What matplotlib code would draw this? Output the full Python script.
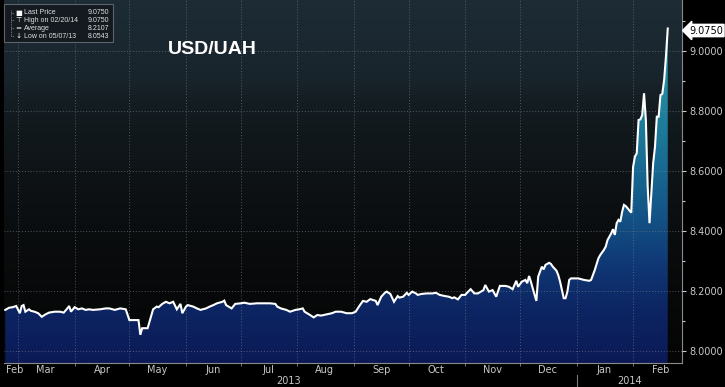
import numpy as np
import matplotlib
matplotlib.use("Agg")
import matplotlib.pyplot as plt
import matplotlib.dates as mdates
import matplotlib.transforms as mtransforms
from matplotlib.colors import LinearSegmentedColormap
from matplotlib.lines import Line2D
from matplotlib.patches import Rectangle

# ---------------- data ----------------
dates = [
    "2013-02-22", "2013-02-24", "2013-02-26", "2013-02-28", "2013-03-02", "2013-03-03",
    "2013-03-04", "2013-03-05", "2013-03-07", "2013-03-08", "2013-03-10", "2013-03-12",
    "2013-03-14", "2013-03-16", "2013-03-18", "2013-03-21", "2013-03-24", "2013-03-26",
    "2013-03-28", "2013-03-29", "2013-03-30", "2013-04-01", "2013-04-03", "2013-04-05",
    "2013-04-07", "2013-04-09", "2013-04-11", "2013-04-15", "2013-04-18", "2013-04-20",
    "2013-04-23", "2013-04-26", "2013-04-29", "2013-05-01", "2013-05-03", "2013-05-06",
    "2013-05-07", "2013-05-08", "2013-05-11", "2013-05-14", "2013-05-16", "2013-05-17",
    "2013-05-19", "2013-05-21", "2013-05-23", "2013-05-25", "2013-05-27", "2013-05-29",
    "2013-05-30", "2013-06-01", "2013-06-02", "2013-06-05", "2013-06-07", "2013-06-09",
    "2013-06-12", "2013-06-14", "2013-06-16", "2013-06-18", "2013-06-21", "2013-06-22",
    "2013-06-23", "2013-06-26", "2013-06-28", "2013-07-01", "2013-07-03", "2013-07-06",
    "2013-07-10", "2013-07-13", "2013-07-17", "2013-07-20", "2013-07-21", "2013-07-23",
    "2013-07-26", "2013-07-28", "2013-07-31", "2013-08-02", "2013-08-04", "2013-08-05",
    "2013-08-08", "2013-08-10", "2013-08-12", "2013-08-14", "2013-08-17", "2013-08-20",
    "2013-08-22", "2013-08-25", "2013-08-28", "2013-08-31", "2013-09-02", "2013-09-04",
    "2013-09-06", "2013-09-08", "2013-09-10", "2013-09-13", "2013-09-14", "2013-09-16",
    "2013-09-18", "2013-09-19", "2013-09-21", "2013-09-23", "2013-09-25", "2013-09-26",
    "2013-09-28", "2013-09-30", "2013-10-01", "2013-10-03", "2013-10-05", "2013-10-06",
    "2013-10-08", "2013-10-11", "2013-10-14", "2013-10-16", "2013-10-18", "2013-10-21",
    "2013-10-23", "2013-10-25", "2013-10-26", "2013-10-28", "2013-10-30", "2013-11-01",
    "2013-11-02", "2013-11-04", "2013-11-06", "2013-11-08", "2013-11-11", "2013-11-12",
    "2013-11-14", "2013-11-16", "2013-11-18", "2013-11-20", "2013-11-23", "2013-11-25",
    "2013-11-27", "2013-11-29", "2013-11-30", "2013-12-02", "2013-12-04", "2013-12-05",
    "2013-12-06", "2013-12-07", "2013-12-08", "2013-12-10", "2013-12-11", "2013-12-12",
    "2013-12-13", "2013-12-14", "2013-12-15", "2013-12-17", "2013-12-18", "2013-12-19",
    "2013-12-21", "2013-12-22", "2013-12-23", "2013-12-24", "2013-12-25", "2013-12-26",
    "2013-12-27", "2013-12-28", "2013-12-29", "2013-12-31", "2014-01-02", "2014-01-05",
    "2014-01-08", "2014-01-09", "2014-01-11", "2014-01-13", "2014-01-14", "2014-01-16",
    "2014-01-17", "2014-01-18", "2014-01-19", "2014-01-20", "2014-01-21", "2014-01-22",
    "2014-01-23", "2014-01-24", "2014-01-25", "2014-01-26", "2014-01-27", "2014-01-28",
    "2014-01-29", "2014-01-30", "2014-01-31", "2014-02-01", "2014-02-02", "2014-02-03",
    "2014-02-04", "2014-02-05", "2014-02-06", "2014-02-07", "2014-02-08", "2014-02-09",
    "2014-02-10", "2014-02-12", "2014-02-13", "2014-02-14", "2014-02-15", "2014-02-16",
    "2014-02-17", "2014-02-18", "2014-02-19", "2014-02-20",
]
values = [
    8.137, 8.144, 8.146, 8.150, 8.126, 8.150,
    8.153, 8.131, 8.139, 8.134, 8.131, 8.126,
    8.114, 8.122, 8.128, 8.131, 8.131, 8.128,
    8.142, 8.150, 8.131, 8.146, 8.139, 8.142,
    8.137, 8.139, 8.137, 8.139, 8.142, 8.142,
    8.137, 8.142, 8.139, 8.103, 8.103, 8.103,
    8.054, 8.076, 8.076, 8.139, 8.148, 8.146,
    8.157, 8.164, 8.159, 8.164, 8.139, 8.157,
    8.126, 8.148, 8.153, 8.148, 8.142, 8.137,
    8.142, 8.148, 8.153, 8.159, 8.164, 8.168,
    8.153, 8.142, 8.157, 8.159, 8.161, 8.157,
    8.159, 8.159, 8.159, 8.157, 8.148, 8.142,
    8.137, 8.131, 8.137, 8.139, 8.142, 8.131,
    8.120, 8.112, 8.120, 8.118, 8.122, 8.126,
    8.131, 8.131, 8.126, 8.126, 8.131, 8.150,
    8.167, 8.164, 8.173, 8.167, 8.153, 8.181,
    8.194, 8.198, 8.190, 8.164, 8.183, 8.178,
    8.181, 8.194, 8.187, 8.198, 8.192, 8.187,
    8.190, 8.192, 8.192, 8.194, 8.187, 8.183,
    8.181, 8.176, 8.179, 8.172, 8.187, 8.187,
    8.194, 8.206, 8.192, 8.192, 8.203, 8.220,
    8.198, 8.203, 8.181, 8.217, 8.217, 8.214,
    8.206, 8.234, 8.214, 8.231, 8.237, 8.226,
    8.250, 8.231, 8.209, 8.167, 8.248, 8.264,
    8.281, 8.272, 8.287, 8.294, 8.290, 8.281,
    8.268, 8.253, 8.231, 8.203, 8.176, 8.176,
    8.198, 8.237, 8.242, 8.242, 8.242, 8.237,
    8.234, 8.237, 8.270, 8.309, 8.320, 8.337,
    8.348, 8.370, 8.381, 8.392, 8.406, 8.387,
    8.426, 8.437, 8.431, 8.464, 8.487, 8.483,
    8.476, 8.468, 8.461, 8.614, 8.648, 8.659,
    8.770, 8.772, 8.787, 8.859, 8.770, 8.548,
    8.426, 8.626, 8.681, 8.781, 8.781, 8.853,
    8.857, 8.903, 8.981, 9.075,
]
title = "USD/UAH"
month_labels = ["Feb", "Mar", "Apr", "May", "Jun", "Jul", "Aug", "Sep",
                "Oct", "Nov", "Dec", "Jan", "Feb"]
month_label_dates = ["2013-02-27", "2013-03-16", "2013-04-16", "2013-05-16",
                     "2013-06-16", "2013-07-16", "2013-08-16", "2013-09-16",
                     "2013-10-16", "2013-11-16", "2013-12-16", "2014-01-16",
                     "2014-02-16"]
month_starts = ["2013-03-01", "2013-04-01", "2013-05-01", "2013-06-01",
                "2013-07-01", "2013-08-01", "2013-09-01", "2013-10-01",
                "2013-11-01", "2013-12-01", "2014-01-01", "2014-02-01"]
year_labels = ["2013", "2014"]
year_label_dates = ["2013-07-27", "2014-01-30"]
yticks = [8.0, 8.2, 8.4, 8.6, 8.8, 9.0]
legend_rows = [("Last Price", "9.0750"), ("High on 02/20/14", "9.0750"),
               ("Average", "8.2107"), ("Low on 05/07/13", "8.0543")]
last_price_label = "9.0750"

# ---------------- figure ----------------
W, H = 725, 387
fig = plt.figure(figsize=(W / 100, H / 100), dpi=100, facecolor="black")
ax = fig.add_axes([4 / W, 24 / H, 678 / W, 363 / H])
ax.set_facecolor("black")

x = mdates.datestr2num(dates)
y = np.array(values)
xmin = mdates.datestr2num("2013-02-21") + 0.3
xmax = mdates.datestr2num("2014-02-27") + 0.8
ymin, ymax = 7.96, 9.17

# background gradient
bg_cmap = LinearSegmentedColormap.from_list(
    "bg", [(0.0, "#050505"), (0.30, "#090b0c"), (0.52, "#0e1316"),
           (0.72, "#141d22"), (0.80, "#19252d"), (1.0, "#1d2c35")])
ax.imshow(np.linspace(0, 1, 256).reshape(-1, 1), extent=[xmin, xmax, ymin, ymax],
          origin="lower", aspect="auto", cmap=bg_cmap, zorder=0, interpolation="bilinear")

# area fill with vertical gradient clipped to the area
poly = ax.fill_between(x, y, ymin, facecolor="none", edgecolor="none", zorder=1)
fill_cmap = LinearSegmentedColormap.from_list(
    "fill", [(0.0, "#0b1a56"), (0.16, "#0d2664"), (0.28, "#103a76"),
             (0.40, "#135285"), (0.53, "#186891"), (0.69, "#1f819c"),
             (0.86, "#2895a8"), (1.0, "#2c9eae")])
im = ax.imshow(np.linspace(0, 1, 256).reshape(-1, 1), extent=[xmin, xmax, ymin, ymax],
               origin="lower", aspect="auto", cmap=fill_cmap, zorder=1.5,
               interpolation="bilinear")
im.set_clip_path(poly.get_paths()[0], transform=ax.transData)

ax.plot(x, y, color="white", lw=1.5, zorder=3, solid_joinstyle="miter")

ax.set_xlim(xmin, xmax)
ax.set_ylim(ymin, ymax)

# grid
ax.set_xticks(mdates.datestr2num(month_starts))
ax.set_xticklabels([])
ax.set_yticks(yticks)
ax.set_yticks(np.arange(8.1, 9.15, 0.2), minor=True)
ax.grid(True, which="major", color="#7a858e", linestyle=(0, (1, 2)), lw=0.7, alpha=0.6)
ax.set_axisbelow(False)

ax.yaxis.tick_right()
ax.set_yticklabels([f"{v:.4f}" for v in yticks])
ax.tick_params(axis="y", which="major", colors="#c8c8c8", labelsize=7, length=3,
               width=0.8, pad=2, labelfontfamily="DejaVu Sans")
ax.tick_params(axis="y", which="minor", colors="#c8c8c8", length=2, width=0.8)
ax.tick_params(axis="x", which="major", colors="#8a8a8a", length=2, width=0.6)

for s in ["top", "left"]:
    ax.spines[s].set_visible(False)
for s in ["right", "bottom"]:
    ax.spines[s].set_color("#8a8a8a")
    ax.spines[s].set_linewidth(0.8)

# month and year labels
btr = mtransforms.blended_transform_factory(ax.transData, fig.transFigure)
for lab, d in zip(month_labels, month_label_dates):
    ax.text(mdates.datestr2num(d), 17 / H, lab, transform=btr, ha="center", va="center",
            color="#c8c8c8", fontsize=7, family="DejaVu Sans", clip_on=False)
for lab, d in zip(year_labels, year_label_dates):
    ax.text(mdates.datestr2num(d), 6 / H, lab, transform=btr, ha="center", va="center",
            color="#c8c8c8", fontsize=7, family="DejaVu Sans", clip_on=False)
sep = mdates.datestr2num("2014-01-01")
ax.add_line(Line2D([sep, sep], [0, 12 / H], transform=btr, color="#7a7a7a", lw=0.8,
                   clip_on=False))

# last price tag
fig.text(689 / W, 1 - 30.5 / H, last_price_label, ha="left", va="center", fontsize=7,
         color="black", family="DejaVu Sans",
         bbox=dict(boxstyle="larrow,pad=0.12", fc="white", ec="white"))

# title
fig.text(168 / W, 1 - 49 / H, title, ha="left", va="center", fontsize=14,
         fontweight="bold", color="white", family="Liberation Sans")

# legend box
fig.patches.append(Rectangle((4 / W, 1 - 42 / H), 109 / W, 38 / H, transform=fig.transFigure,
                             fc="#141a1f", ec="#5c636a", lw=0.8, zorder=5))
row_y = [13, 20, 28, 36]
icons = ["■", "⊤", "=", "↓"]
fig.lines.append(Line2D([11 / W, 11 / W], [1 - 10 / H, 1 - 36 / H], transform=fig.transFigure,
                        color="#8a8a8a", lw=0.6, linestyle=(0, (1, 1)), zorder=6))
for (lab, val), ry, ic in zip(legend_rows, row_y, icons):
    fy = 1 - ry / H
    fig.lines.append(Line2D([11 / W, 14 / W], [fy, fy], transform=fig.transFigure,
                            color="#8a8a8a", lw=0.6, linestyle=(0, (1, 1)), zorder=6))
    fig.text(18.5 / W, fy, ic, ha="center", va="center", fontsize=5.2, color="white",
             family="DejaVu Sans", zorder=7)
    fig.text(24 / W, fy, lab, ha="left", va="center", fontsize=5, color="#e0e0e0",
             family="Liberation Sans", zorder=7)
    fig.text(109 / W, fy, val, ha="right", va="center", fontsize=5, color="#e0e0e0",
             family="Liberation Sans", zorder=7)

fig.savefig("out.png", dpi=100, facecolor="black")
